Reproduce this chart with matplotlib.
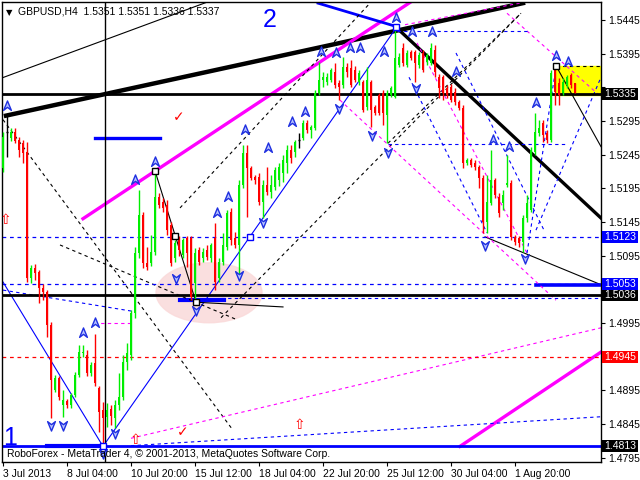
import numpy as np
import matplotlib
matplotlib.use('Agg')
import matplotlib.pyplot as plt
from matplotlib.patches import Ellipse, Rectangle
from matplotlib.path import Path
import matplotlib.transforms as mtransforms

# GBPUSD H4 candles, 3 Jul 2013 12:00 .. 6 Aug 2013 08:00
opens = [1.5225, 1.5279, 1.5270, 1.5279, 1.5267, 1.5262, 1.5249, 1.5062, 1.5077, 1.5071,
         1.5047, 1.5041, 1.4992, 1.4896, 1.4914, 1.4873, 1.4879, 1.4873, 1.4888, 1.4918,
         1.4951, 1.4948, 1.4921, 1.4936, 1.4899, 1.4866, 1.4856, 1.4868, 1.4854, 1.4873,
         1.4885, 1.4937, 1.4948, 1.5010, 1.5099, 1.5156, 1.5084, 1.5084, 1.5101, 1.5182,
         1.5175, 1.5170, 1.5141, 1.5092, 1.5118, 1.5096, 1.5121, 1.5121, 1.5055, 1.5104,
         1.5092, 1.5104, 1.5092, 1.5121, 1.5062, 1.5086, 1.5108, 1.5160, 1.5121, 1.5111,
         1.5200, 1.5248, 1.5225, 1.5212, 1.5212, 1.5175, 1.5200, 1.5190, 1.5197, 1.5207,
         1.5218, 1.5233, 1.5252, 1.5249, 1.5267, 1.5270, 1.5292, 1.5282, 1.5285, 1.5337,
         1.5356, 1.5353, 1.5356, 1.5368, 1.5352, 1.5349, 1.5375, 1.5374, 1.5371, 1.5353,
         1.5353, 1.5316, 1.5353, 1.5316, 1.5334, 1.5337, 1.5304, 1.5334, 1.5331, 1.5378,
         1.5403, 1.5378, 1.5397, 1.5397, 1.5378, 1.5396, 1.5383, 1.5381, 1.5400, 1.5360,
         1.5360, 1.5344, 1.5346, 1.5338, 1.5323, 1.5314, 1.5233, 1.5237, 1.5233, 1.5227,
         1.5210, 1.5145, 1.5173, 1.5207, 1.5182, 1.5173, 1.5200, 1.5203, 1.5123, 1.5121,
         1.5115, 1.5151, 1.5163, 1.5249, 1.5277, 1.5292, 1.5277, 1.5267, 1.5371, 1.5352,
         1.5337, 1.5349, 1.5363, 1.5351]
highs = [1.5279, 1.5304, 1.5285, 1.5285, 1.5271, 1.5267, 1.5264, 1.5081, 1.5083, 1.5074,
         1.5053, 1.5044, 1.4997, 1.4918, 1.4917, 1.4896, 1.4882, 1.4891, 1.4922, 1.4963,
         1.4963, 1.4955, 1.4937, 1.4979, 1.4902, 1.4878, 1.4876, 1.4873, 1.4881, 1.4921,
         1.4948, 1.4966, 1.5015, 1.5108, 1.5193, 1.5160, 1.5108, 1.5126, 1.5222, 1.5188,
         1.5181, 1.5178, 1.5145, 1.5118, 1.5124, 1.5121, 1.5124, 1.5124, 1.5107, 1.5108,
         1.5107, 1.5111, 1.5114, 1.5144, 1.5092, 1.5129, 1.5163, 1.5166, 1.5130, 1.5207,
         1.5259, 1.5259, 1.5228, 1.5215, 1.5218, 1.5207, 1.5227, 1.5215, 1.5227, 1.5233,
         1.5245, 1.5259, 1.5259, 1.5267, 1.5277, 1.5297, 1.5297, 1.5289, 1.5341, 1.5383,
         1.5368, 1.5366, 1.5374, 1.5381, 1.5356, 1.5390, 1.5381, 1.5386, 1.5377, 1.5371,
         1.5356, 1.5375, 1.5356, 1.5319, 1.5337, 1.5341, 1.5341, 1.5347, 1.5435, 1.5396,
         1.5411, 1.5400, 1.5400, 1.5400, 1.5397, 1.5400, 1.5396, 1.5411, 1.5408, 1.5365,
         1.5363, 1.5349, 1.5350, 1.5344, 1.5326, 1.5319, 1.5240, 1.5240, 1.5237, 1.5230,
         1.5215, 1.5215, 1.5252, 1.5210, 1.5188, 1.5193, 1.5245, 1.5207, 1.5126, 1.5124,
         1.5156, 1.5185, 1.5256, 1.5307, 1.5297, 1.5297, 1.5282, 1.5371, 1.5378, 1.5359,
         1.5359, 1.5363, 1.5366, 1.5351]
lows = [1.5219, 1.5242, 1.5265, 1.5262, 1.5242, 1.5233, 1.5056, 1.5055, 1.5059, 1.5025,
        1.5029, 1.4974, 1.4854, 1.4893, 1.4881, 1.4856, 1.4869, 1.4869, 1.4885, 1.4915,
        1.4945, 1.4917, 1.4917, 1.4902, 1.4833, 1.4813, 1.4841, 1.4844, 1.4839, 1.4866,
        1.4881, 1.4925, 1.4940, 1.5003, 1.5092, 1.5077, 1.5074, 1.5080, 1.5096, 1.5166,
        1.5160, 1.5126, 1.5080, 1.5086, 1.5095, 1.5092, 1.5078, 1.5029, 1.5026, 1.5081,
        1.5086, 1.5089, 1.5086, 1.5044, 1.5056, 1.5081, 1.5104, 1.5111, 1.5107, 1.5066,
        1.5196, 1.5153, 1.5207, 1.5202, 1.5170, 1.5151, 1.5185, 1.5181, 1.5193, 1.5199,
        1.5205, 1.5218, 1.5233, 1.5242, 1.5255, 1.5267, 1.5277, 1.5270, 1.5282, 1.5334,
        1.5346, 1.5349, 1.5353, 1.5344, 1.5326, 1.5344, 1.5360, 1.5346, 1.5353, 1.5349,
        1.5308, 1.5311, 1.5286, 1.5304, 1.5304, 1.5289, 1.5262, 1.5331, 1.5329, 1.5375,
        1.5377, 1.5375, 1.5386, 1.5353, 1.5374, 1.5368, 1.5378, 1.5378, 1.5360, 1.5329,
        1.5326, 1.5329, 1.5323, 1.5319, 1.5311, 1.5225, 1.5230, 1.5227, 1.5222, 1.5196,
        1.5129, 1.5129, 1.5170, 1.5181, 1.5153, 1.5163, 1.5197, 1.5118, 1.5111, 1.5108,
        1.5101, 1.5145, 1.5160, 1.5245, 1.5273, 1.5264, 1.5262, 1.5264, 1.5319, 1.5319,
        1.5334, 1.5344, 1.5344, 1.5336]
closes = [1.5271, 1.5279, 1.5279, 1.5265, 1.5252, 1.5248, 1.5062, 1.5077, 1.5069, 1.5047,
          1.5041, 1.4992, 1.4911, 1.4914, 1.4885, 1.4881, 1.4873, 1.4888, 1.4918, 1.4952,
          1.4952, 1.4921, 1.4933, 1.4906, 1.4863, 1.4854, 1.4866, 1.4857, 1.4873, 1.4885,
          1.4937, 1.4951, 1.5010, 1.5099, 1.5156, 1.5084, 1.5078, 1.5101, 1.5182, 1.5170,
          1.5166, 1.5133, 1.5084, 1.5114, 1.5104, 1.5118, 1.5099, 1.5034, 1.5099, 1.5086,
          1.5101, 1.5093, 1.5111, 1.5056, 1.5086, 1.5111, 1.5159, 1.5118, 1.5111, 1.5200,
          1.5248, 1.5225, 1.5210, 1.5207, 1.5175, 1.5200, 1.5190, 1.5200, 1.5222, 1.5227,
          1.5237, 1.5252, 1.5240, 1.5264, 1.5267, 1.5292, 1.5282, 1.5286, 1.5337, 1.5356,
          1.5360, 1.5360, 1.5371, 1.5349, 1.5346, 1.5375, 1.5368, 1.5349, 1.5356, 1.5366,
          1.5311, 1.5356, 1.5311, 1.5307, 1.5307, 1.5307, 1.5337, 1.5344, 1.5389, 1.5390,
          1.5381, 1.5396, 1.5389, 1.5381, 1.5393, 1.5371, 1.5393, 1.5403, 1.5368, 1.5344,
          1.5337, 1.5334, 1.5326, 1.5323, 1.5314, 1.5233, 1.5237, 1.5230, 1.5227, 1.5210,
          1.5145, 1.5175, 1.5207, 1.5185, 1.5159, 1.5185, 1.5203, 1.5123, 1.5115, 1.5114,
          1.5151, 1.5173, 1.5252, 1.5279, 1.5285, 1.5274, 1.5267, 1.5366, 1.5338, 1.5334,
          1.5353, 1.5360, 1.5349, 1.5337]

xtick_bars = [0, 16, 32, 48, 64, 80, 96, 112, 128]
xtick_labels = ['3 Jul 2013', '8 Jul 04:00', '10 Jul 20:00', '15 Jul 12:00', '18 Jul 04:00',
                '22 Jul 20:00', '25 Jul 12:00', '30 Jul 04:00', '1 Aug 20:00']
ytick_prices = [1.4795, 1.4845, 1.4895, 1.4945, 1.4995, 1.5045, 1.5095, 1.5145,
                1.5195, 1.5245, 1.5295, 1.5345, 1.5395, 1.5445]
hidden_ticks = [1.4945, 1.5045, 1.5345]

# horizontal levels: price, colour, width, style, label box colour
levels = [(1.5335, 'black', 2.0, '-', 'black'),
          (1.5036, 'black', 2.0, '-', 'black'),
          (1.4813, '#0000ff', 2.0, '-', 'black'),
          (1.5123, '#0000ff', 0.9, (0, (3, 3)), '#0000ff'),
          (1.5053, '#0000ff', 0.9, (0, (3, 3)), '#0000ff'),
          (1.4945, '#ff0000', 0.9, (0, (3, 3)), '#ff0000')]

# drawn trend lines: (bar0, price0, bar1, price1, colour, width, style)
solid = '-'
dash = (0, (3, 3))
trend_lines = [
    (0.75, 1.5303, 130, 1.5470, 'black', 3.2, solid),
    (-0.25, 1.5359, 51.25, 1.5472, 'black', 0.8, solid),
    (20, 1.5150, 102, 1.5472, '#ff00ff', 2.4, solid),
    (114.25, 1.4812, 149.5, 1.4952, '#ff00ff', 2.4, solid),
    (23, 1.5270, 39.25, 1.5270, '#0000ff', 2.4, solid),
    (78.75, 1.5470, 98.5, 1.5435, '#0000ff', 2.0, solid),
    (0, 1.5056, 25, 1.4812, '#0000ff', 0.8, solid),
    (25, 1.4812, 98.5, 1.5435, '#0000ff', 0.8, solid),
    (98.5, 1.5433, 149.5, 1.5151, 'black', 2.4, solid),
    (38, 1.5221, 48.25, 1.5026, 'black', 0.8, solid),
    (48.25, 1.5026, 70, 1.5019, 'black', 0.8, solid),
    (120.5, 1.5123, 149.5, 1.5052, 'black', 0.8, solid),
    (138.25, 1.5377, 149.5, 1.5257, 'black', 0.8, solid),
    (44.25, 1.5029, 55.25, 1.5029, '#0000ff', 3.0, solid),
    (133.25, 1.5052, 149.5, 1.5052, '#0000ff', 2.6, solid),
    (11, 1.4813, 25, 1.4813, '#0000ff', 3.0, solid),
    (54.5, 1.5032, 149.5, 1.5032, '#0000ff', 0.8, dash),
    (0, 1.5297, 57.5, 1.4836, 'black', 0.8, dash),
    (14.25, 1.5111, 58.5, 1.5000, 'black', 0.8, dash),
    (44.25, 1.5166, 91.75, 1.5470, 'black', 0.8, dash),
    (54.5, 1.5003, 129.5, 1.5455, 'black', 0.8, dash),
    (96.25, 1.5262, 129.5, 1.5455, 'black', 0.8, dash),
    (0, 1.5044, 33, 1.5012, '#0000ff', 0.8, dash),
    (32, 1.4813, 149.5, 1.4856, '#0000ff', 0.8, dash),
    (32, 1.4824, 149.5, 1.4988, '#ff00ff', 0.8, dash),
    (22.75, 1.4995, 32, 1.4995, '#ff00ff', 0.8, dash),
    (84.25, 1.5326, 138.25, 1.5029, '#ff00ff', 0.8, dash),
    (126, 1.5455, 149.5, 1.5331, '#ff00ff', 0.8, dash),
    (103.5, 1.5411, 131, 1.5099, '#ff00ff', 0.8, dash),
    (100.5, 1.5438, 129.25, 1.5470, '#ff00ff', 0.8, dash),
    (113.25, 1.5396, 135.25, 1.5133, '#0000ff', 0.8, dash),
    (101.5, 1.5360, 121, 1.5129, '#0000ff', 0.8, dash),
    (133.25, 1.5133, 149.5, 1.5360, '#0000ff', 0.8, dash),
    (131, 1.5099, 138.25, 1.5375, '#0000ff', 0.8, dash),
    (96.25, 1.5261, 141.25, 1.5261, '#0000ff', 0.8, dash),
    (98.5, 1.5429, 131, 1.5429, '#0000ff', 0.8, dash),
    (138.25, 1.5377, 149.5, 1.5377, 'black', 0.8, dash),
]

up_arrow_bars = [1, 20, 23, 33, 38, 53.5, 56.25, 60.5, 66.25, 72.25, 75.5, 79.5, 83.25,
                 86.75, 89.25, 95.25, 98.25, 102.25, 107.25, 113.25, 122.5, 126.5, 133.25,
                 138.25, 141.25]
up_arrow_prices = [1.5317, 1.4980, 1.4995, 1.5207, 1.5234, 1.5158, 1.5182, 1.5282, 1.5255,
                   1.5294, 1.5308, 1.5398, 1.5396, 1.5403, 1.5403, 1.5398, 1.5448, 1.5427,
                   1.5427, 1.5368, 1.5267, 1.5257, 1.5322, 1.5392, 1.5383]
down_arrow_bars = [12, 15, 25, 28, 43.25, 48.25, 59, 65, 84, 92.25, 96.25, 103.25, 120.5, 130.5]
down_arrow_prices = [1.4844, 1.4844, 1.4802, 1.4832, 1.5062, 1.5014, 1.5066, 1.5145, 1.5314,
                     1.5274, 1.5249, 1.5344, 1.5111, 1.5092]
check_bars = [44, 45]
check_prices = [1.5301, 1.4833]
red_arrow_bars = [0.5, 33, 74]
red_arrow_prices = [1.5148, 1.4821, 1.4844]
square_bars = [25, 38, 43, 61.75, 98.25, 138.25, 48.25]
square_prices = [1.4812, 1.5221, 1.5124, 1.5123, 1.5435, 1.5377, 1.5026]
square_colors = ['#0000ff', 'black', 'black', '#0000ff', '#0000ff', 'black', 'black']

plt.rcParams['font.family'] = ['Liberation Sans', 'DejaVu Sans']
fig = plt.figure(figsize=(6.4, 4.8), dpi=100)
ax = fig.add_axes([2 / 640, 18 / 480, 599 / 640, 460 / 480])
ax.set_xlim(-0.25, 149.5)
ax.set_ylim(1.47888, 1.54717)

o = np.array(opens); h = np.array(highs); l = np.array(lows); c = np.array(closes)
x = np.arange(len(o))
up = c > o
dn = c < o
dj = c == o
green = '#00ee00'
red = '#ff0000'

# background objects
ax.add_patch(Rectangle((138.25, 1.5334), 11.25, 0.0043, color='#ffff00', zorder=0))
ax.add_patch(Ellipse((51.5, 1.5040), 26.5, 0.0089, color='#fadada', alpha=0.85, zorder=0))

for b0, p0, b1, p1, col, lw, ls in trend_lines:
    ax.plot([b0, b1], [p0, p1], color=col, lw=lw, ls=ls, zorder=1)
for p, col, lw, ls, box in levels:
    ax.axhline(p, color=col, lw=lw, ls=ls, zorder=1)
ax.axvline(25.5, color='black', lw=1, zorder=1)

# candles
ax.vlines(x[up], l[up], h[up], color=green, lw=1, zorder=3)
ax.vlines(x[dn], l[dn], h[dn], color=red, lw=1, zorder=3)
ax.vlines(x[dj], l[dj], h[dj], color='black', lw=1, zorder=3)
ax.bar(x[up], np.maximum(c[up] - o[up], 0.00008), bottom=o[up], width=0.72,
       color=green, lw=0, zorder=3)
ax.bar(x[dn], np.minimum(c[dn] - o[dn], -0.00008), bottom=o[dn], width=0.72,
       color=red, lw=0, zorder=3)
ax.hlines(o[dj], x[dj] - 0.36, x[dj] + 0.36, color='black', lw=1, zorder=3)

# MT4 style notched arrow heads
up_head = Path([(0, 1), (0.7, -0.7), (0, -0.15), (-0.7, -0.7), (0, 1)],
               [Path.MOVETO, Path.LINETO, Path.LINETO, Path.LINETO, Path.CLOSEPOLY])
down_head = Path([(0, -1), (0.7, 0.7), (0, 0.15), (-0.7, 0.7), (0, -1)],
                 [Path.MOVETO, Path.LINETO, Path.LINETO, Path.LINETO, Path.CLOSEPOLY])
ax.plot(up_arrow_bars, up_arrow_prices, ls='none', marker=up_head, ms=8,
        mfc='#b8c4ff', mec='#2030e0', mew=1.0, zorder=4)
ax.plot(down_arrow_bars, down_arrow_prices, ls='none', marker=down_head, ms=8,
        mfc='#b8c4ff', mec='#2030e0', mew=1.0, zorder=4)
for b, p in zip(check_bars, check_prices):
    ax.text(b, p, '\u2713', color=red, fontsize=10, ha='center', va='center',
            fontweight='bold', family='DejaVu Sans', zorder=4)
for b, p in zip(red_arrow_bars, red_arrow_prices):
    ax.text(b, p, '\u21e7', color=red, fontsize=10, ha='center', va='center',
            family='DejaVu Sans', zorder=4)
for b, p, col in zip(square_bars, square_prices, square_colors):
    ax.plot(b, p, marker='s', ms=4, mfc='white', mec=col, mew=1, zorder=5)

ax.text(1.75, 1.4824, '1', color='#0000ff', fontsize=18, ha='center', va='center', zorder=4)
ax.text(66.75, 1.5445, '2', color='#0000ff', fontsize=18, ha='center', va='center', zorder=4)

# header and footer
ax.text(0.006, 0.988, '\u25bc', transform=ax.transAxes, fontsize=6, va='top', ha='left',
        family='DejaVu Sans', zorder=6)
ax.text(0.027, 0.99, 'GBPUSD,H4  1.5351 1.5351 1.5336 1.5337', transform=ax.transAxes,
        fontsize=7.5, va='top', ha='left', zorder=6)
ax.text(0.008, 0.006, 'RoboForex - MetaTrader 4, \u00a9 2001-2013, MetaQuotes Software Corp.',
        transform=ax.transAxes, fontsize=7.5, va='bottom', ha='left', zorder=6)

# axes
ax.yaxis.tick_right()
ax.set_yticks(ytick_prices)
ax.set_yticklabels(['' if v in hidden_ticks else '%.4f' % v for v in ytick_prices], fontsize=7.5)
ax.set_xticks(xtick_bars)
ax.set_xticklabels(xtick_labels, fontsize=7.5)
for lab in ax.get_xticklabels():
    lab.set_horizontalalignment('left')
ax.tick_params(axis='both', direction='out', length=3, width=0.8, pad=2)
for s in ax.spines.values():
    s.set_color('black')
    s.set_linewidth(1)

# price labels in coloured boxes on the price scale (12 px tall, 36 px wide)
trans = mtransforms.blended_transform_factory(ax.transAxes, ax.transData)
box_h = 12 * (1.54717 - 1.47888) / 460
for p, col, lw, ls, box in levels:
    ax.add_patch(Rectangle((1.0017, p - box_h / 2), 36 / 599, box_h, transform=trans,
                           facecolor=box, edgecolor='none', clip_on=False, zorder=9))
    ax.text(1.0017 + 18 / 599, p, '%.4f' % p, transform=trans, fontsize=7.5, color='white',
            va='center', ha='center', clip_on=False, zorder=10)

fig.savefig('out.png', dpi=100)
